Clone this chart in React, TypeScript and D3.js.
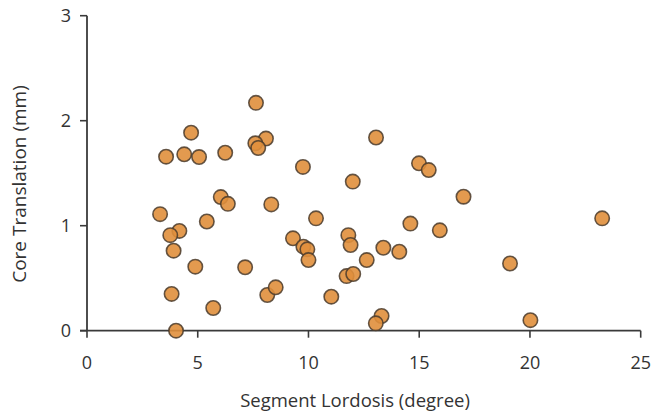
import React from "react";
import * as d3 from "d3";

const lordosis: number[] = [
  7.63, 4.70, 8.08, 7.60, 7.73, 3.57, 4.39, 5.06, 6.24, 9.75,
  6.04, 6.36, 8.32, 3.30, 10.34, 5.41, 13.05, 14.99, 15.43, 12.0,
  17.0, 14.6, 15.93, 9.30, 11.8, 9.77, 9.95, 10.0, 11.9, 13.38,
  14.1, 12.63, 7.14, 11.72, 12.02, 8.14, 8.52, 11.03, 13.3, 13.04,
  4.17, 3.76, 3.91, 4.89, 3.82, 5.70, 4.02, 23.26, 19.1, 20.02,
];
const translation: number[] = [
  2.17, 1.886, 1.83, 1.785, 1.74, 1.657, 1.68, 1.654, 1.695, 1.56,
  1.273, 1.208, 1.203, 1.11, 1.07, 1.04, 1.84, 1.594, 1.53, 1.42,
  1.276, 1.02, 0.956, 0.88, 0.91, 0.80, 0.775, 0.673, 0.816, 0.79,
  0.752, 0.673, 0.604, 0.52, 0.54, 0.34, 0.413, 0.324, 0.14, 0.07,
  0.95, 0.91, 0.762, 0.61, 0.35, 0.216, 0.0, 1.07, 0.64, 0.10,
];
const xTicks: number[] = [0, 5, 10, 15, 20, 25];
const yTicks: number[] = [0, 1, 2, 3];
const xTitle = "Segment Lordosis (degree)";
const yTitle = "Core Translation (mm)";

export default function App() {
  const W = 653;
  const H = 414;
  const x = d3.scaleLinear().domain([0, 25]).range([87, 640.7]);
  const y = d3.scaleLinear().domain([0, 3]).range([330.7, 15.7]);
  const font = "'Open Sans', sans-serif";
  const axisColor = "#3a3a3a";
  const points = lordosis.map((v, i) => ({ x: v, y: translation[i] }));

  return (
    <svg
      width={W}
      height={H}
      style={{ position: "absolute", left: 0, top: 0, background: "#fff" }}
      fontFamily={font}
    >
      <line x1={x(0) - 7} x2={x(25)} y1={y(0)} y2={y(0)} stroke={axisColor} strokeWidth={1.8} />
      <line x1={x(0)} x2={x(0)} y1={y(3)} y2={y(0)} stroke={axisColor} strokeWidth={1.8} />
      {xTicks.map((t) => (
        <g key={"xt" + t}>
          <line x1={x(t)} x2={x(t)} y1={y(0)} y2={y(0) + 7} stroke={axisColor} strokeWidth={1.6} />
          <text x={x(t)} y={369} textAnchor="middle" fontSize={18} fill="#333">
            {t}
          </text>
        </g>
      ))}
      {yTicks.map((t) => (
        <g key={"yt" + t}>
          <line x1={x(0) - 7} x2={x(0)} y1={y(t)} y2={y(t)} stroke={axisColor} strokeWidth={1.6} />
          <text x={71} y={y(t)} dy="0.36em" textAnchor="end" fontSize={18} fill="#333">
            {t}
          </text>
        </g>
      ))}
      <text x={355} y={407} textAnchor="middle" fontSize={18.5} fill="#333">
        {xTitle}
      </text>
      <text
        transform={`translate(26,184) rotate(-90)`}
        textAnchor="middle"
        fontSize={19}
        fill="#333"
      >
        {yTitle}
      </text>
      {points.map((p, i) => (
        <circle
          key={i}
          cx={x(p.x)}
          cy={y(p.y)}
          r={7.2}
          fill="#e08f3c"
          fillOpacity={0.9}
          stroke="#4a3b2c"
          strokeOpacity={0.85}
          strokeWidth={1.6}
        />
      ))}
    </svg>
  );
}
